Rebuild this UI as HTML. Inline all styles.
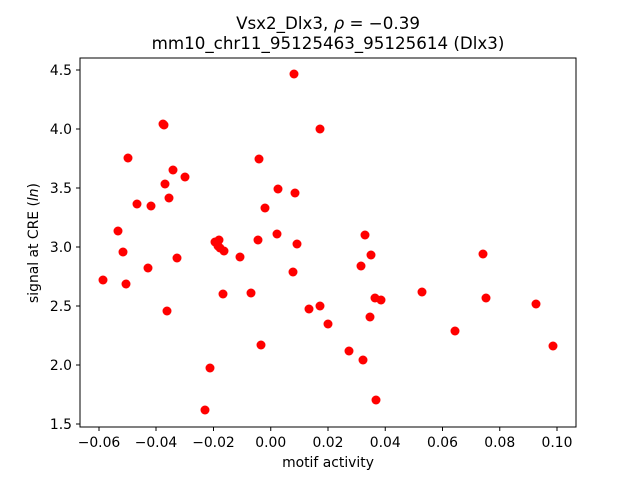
<!DOCTYPE html>
<html><head><meta charset="utf-8"><style>body{margin:0;background:#fff}</style></head><body>
<svg width="640" height="480" xmlns="http://www.w3.org/2000/svg" font-family="DejaVu Sans, Liberation Sans, sans-serif">
<rect width="640" height="480" fill="#fff"/>
<text x="328" y="29" font-size="16.7" text-anchor="middle">Vsx2_Dlx3, <tspan font-style="italic">ρ</tspan> = −0.39</text>
<text x="328" y="49" font-size="16.7" text-anchor="middle">mm10_chr11_95125463_95125614 (Dlx3)</text>
<g fill="red">
<circle cx="103" cy="280" r="4.5"/><circle cx="118" cy="231" r="4.5"/><circle cx="123" cy="252" r="4.5"/><circle cx="126" cy="284" r="4.5"/><circle cx="128" cy="158" r="4.5"/><circle cx="137" cy="204" r="4.5"/><circle cx="148" cy="268" r="4.5"/><circle cx="151" cy="206" r="4.5"/><circle cx="163" cy="124" r="4.5"/><circle cx="164" cy="125" r="4.5"/><circle cx="165" cy="184" r="4.5"/><circle cx="167" cy="311" r="4.5"/><circle cx="169" cy="198" r="4.5"/><circle cx="173" cy="170" r="4.5"/><circle cx="177" cy="258" r="4.5"/><circle cx="185" cy="177" r="4.5"/><circle cx="205" cy="410" r="4.5"/><circle cx="210" cy="368" r="4.5"/><circle cx="215" cy="242" r="4.5"/><circle cx="218" cy="246" r="4.5"/><circle cx="219" cy="240" r="4.5"/><circle cx="220" cy="248" r="4.5"/><circle cx="223" cy="294" r="4.5"/><circle cx="224" cy="251" r="4.5"/><circle cx="240" cy="257" r="4.5"/><circle cx="251" cy="293" r="4.5"/><circle cx="259" cy="159" r="4.5"/><circle cx="258" cy="240" r="4.5"/><circle cx="261" cy="345" r="4.5"/><circle cx="265" cy="208" r="4.5"/><circle cx="277" cy="234" r="4.5"/><circle cx="278" cy="189" r="4.5"/><circle cx="293" cy="272" r="4.5"/><circle cx="294" cy="74" r="4.5"/><circle cx="295" cy="193" r="4.5"/><circle cx="297" cy="244" r="4.5"/><circle cx="309" cy="309" r="4.5"/><circle cx="320" cy="129" r="4.5"/><circle cx="320" cy="306" r="4.5"/><circle cx="328" cy="324" r="4.5"/><circle cx="349" cy="351" r="4.5"/><circle cx="363" cy="360" r="4.5"/><circle cx="365" cy="235" r="4.5"/><circle cx="361" cy="266" r="4.5"/><circle cx="370" cy="317" r="4.5"/><circle cx="371" cy="255" r="4.5"/><circle cx="375" cy="298" r="4.5"/><circle cx="376" cy="400" r="4.5"/><circle cx="381" cy="300" r="4.5"/><circle cx="422" cy="292" r="4.5"/><circle cx="455" cy="331" r="4.5"/><circle cx="483" cy="254" r="4.5"/><circle cx="486" cy="298" r="4.5"/><circle cx="536" cy="304" r="4.5"/><circle cx="553" cy="346" r="4.5"/>
</g>
<rect x="80" y="58" width="496" height="369" fill="none" stroke="#000" stroke-width="1"/>
<g stroke="#000">
<line x1="99" y1="427" x2="99" y2="431"/><line x1="156" y1="427" x2="156" y2="431"/><line x1="213.5" y1="427" x2="213.5" y2="431"/><line x1="270.75" y1="427" x2="270.75" y2="431"/><line x1="328" y1="427" x2="328" y2="431"/><line x1="385.25" y1="427" x2="385.25" y2="431"/><line x1="442.5" y1="427" x2="442.5" y2="431"/><line x1="499.75" y1="427" x2="499.75" y2="431"/><line x1="557" y1="427" x2="557" y2="431"/>
<line x1="76" y1="70" x2="80" y2="70"/><line x1="76" y1="129" x2="80" y2="129"/><line x1="76" y1="188" x2="80" y2="188"/><line x1="76" y1="247" x2="80" y2="247"/><line x1="76" y1="306" x2="80" y2="306"/><line x1="76" y1="365" x2="80" y2="365"/><line x1="76" y1="424" x2="80" y2="424"/>
</g>
<g font-size="13.9" text-anchor="middle">
<text x="99" y="447">−0.06</text><text x="156" y="447">−0.04</text><text x="213.5" y="447">−0.02</text><text x="270.75" y="447">0.00</text><text x="328" y="447">0.02</text><text x="385.25" y="447">0.04</text><text x="442.5" y="447">0.06</text><text x="499.75" y="447">0.08</text><text x="557" y="447">0.10</text>
<text x="328" y="467">motif activity</text>
</g>
<g font-size="13.9" text-anchor="end">
<text x="72" y="75">4.5</text><text x="72" y="134">4.0</text><text x="72" y="193">3.5</text><text x="72" y="252">3.0</text><text x="72" y="311">2.5</text><text x="72" y="370">2.0</text><text x="72" y="429">1.5</text>
</g>
<text transform="translate(38,243) rotate(-90)" font-size="13.9" text-anchor="middle">signal at CRE (<tspan font-style="italic">ln</tspan>)</text>
</svg>
</body></html>
